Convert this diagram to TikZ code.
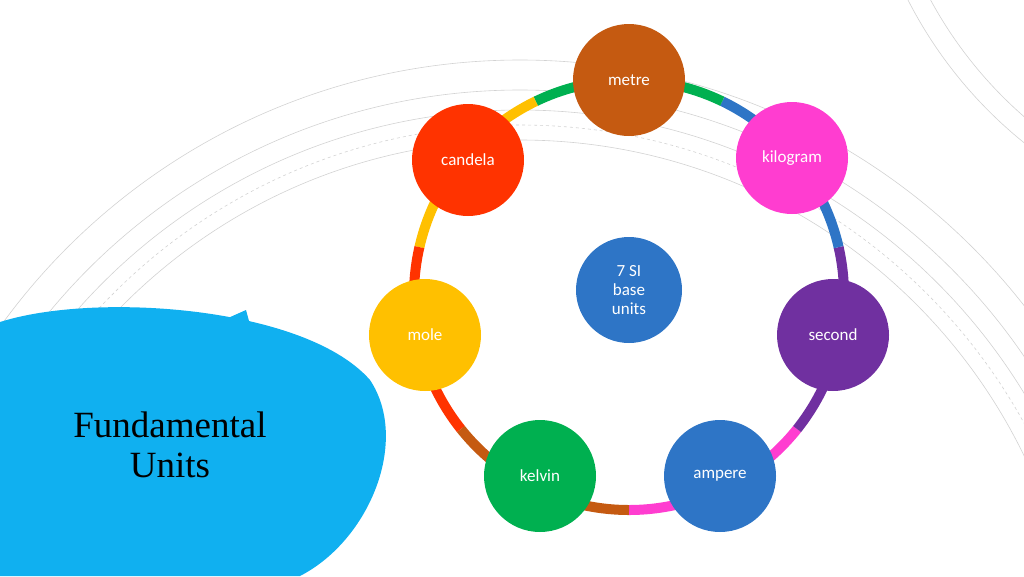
\documentclass[tikz,border=0pt]{standalone}
\usepackage{fontspec}
\setmainfont{Carlito}
\newfontfamily\titlefont{Liberation Serif}
\usetikzlibrary{calc}
\definecolor{cMetre}{HTML}{C55A11}
\definecolor{cKilo}{HTML}{FF3DD0}
\definecolor{cSecond}{HTML}{7030A0}
\definecolor{cAmpere}{HTML}{2E75C6}
\definecolor{cKelvin}{HTML}{00B050}
\definecolor{cMole}{HTML}{FFC000}
\definecolor{cCandela}{HTML}{FF3300}
\definecolor{cBubble}{HTML}{10B0F0}
\tikzset{
  unit/.style={circle,minimum size=112pt,inner sep=0pt,text=white,font=\fontsize{17}{19}\selectfont,align=center},
  ring/.style={line width=10pt},
  bgarc/.style={gray!35,line width=0.6pt}
}
\begin{document}
\begin{tikzpicture}[x=1pt,y=-1pt]
\useasboundingbox (0,0) rectangle (1024,576);
% background arcs
\begin{scope}
\clip (0,0) rectangle (1024,576);
\foreach \r in {560,590,610,640}
  \draw[bgarc] (520,700) circle (\r);
\draw[bgarc,dashed] (520,700) circle (575);
\draw[bgarc] (1300,-200) circle (420);
\draw[bgarc] (1300,-200) circle (440);
\end{scope}
% bubble
\fill[cBubble] (-20,330) .. controls (60,290) and (300,300) .. (370,380)
  .. controls (410,440) and (370,540) .. (300,576) -- (-20,576) -- cycle;
\fill[cBubble] (228,318) -- (246,310) -- (252,332) -- cycle;
\node[font=\titlefont\fontsize{37}{40}\selectfont,align=center] (title) at (170,445) {Fundamental\\Units};
% ring
\coordinate (ctr) at (629,295);
\foreach \a/\b/\c in {90/38.57/cKilo,38.57/-12.86/cSecond,-12.86/-64.29/cAmpere,-64.29/-115.71/cKelvin,-115.71/-167.14/cMole,-167.14/-218.57/cCandela,-218.57/-270/cMetre}
  \draw[ring,\c] ($(ctr)+(\a:215)$) arc[start angle=\a,end angle=\b,radius=215];
% nodes
\node[unit,fill=cAmpere,minimum size=106pt] (base) at (629,290) {7 SI\\base\\units};
\node[unit,fill=cMetre] (metre) at (629,80) {metre};
\node[unit,fill=cKilo] (kilogram) at (792,158) {kilogram};
\node[unit,fill=cSecond] (second) at (833,335) {second};
\node[unit,fill=cAmpere] (ampere) at (720,476) {ampere};
\node[unit,fill=cKelvin] (kelvin) at (540,476) {kelvin};
\node[unit,fill=cMole] (mole) at (425,335) {mole};
\node[unit,fill=cCandela] (candela) at (468,160) {candela};
\end{tikzpicture}
\end{document}
